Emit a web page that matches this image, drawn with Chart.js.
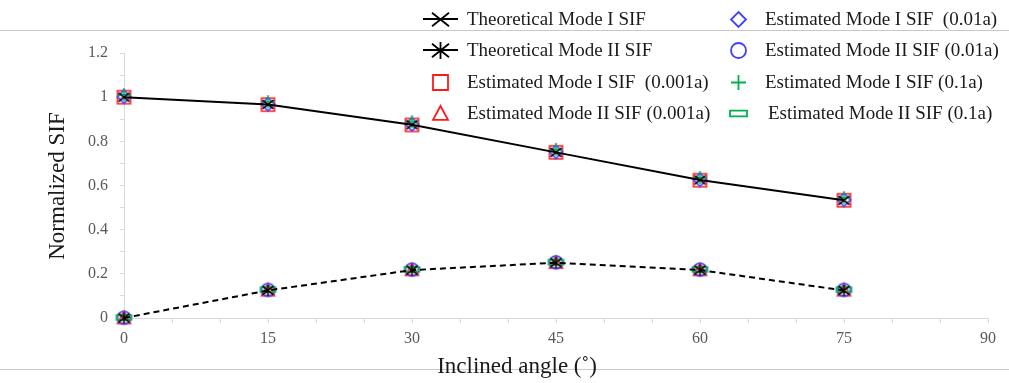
<!DOCTYPE html>
<html>
<head>
<meta charset="utf-8">
<script src="https://cdn.jsdelivr.net/npm/chart.js@4.4.1/dist/chart.umd.min.js"></script>
<style>
  html,body{margin:0;padding:0;background:#fff;}
  #wrap{width:1009px;height:383px;position:relative;}
</style>
</head>
<body>
<div id="wrap"><canvas id="c" width="1009" height="383"></canvas></div>
<script>
// ---- data ----
const angles = [0, 15, 30, 45, 60, 75];
const theoModeI  = [1.000, 0.967, 0.875, 0.750, 0.625, 0.533];
const theoModeII = [0.000, 0.125, 0.217, 0.250, 0.217, 0.125];
const estModeI_0001a  = [1.000, 0.966, 0.874, 0.750, 0.624, 0.533];
const estModeII_0001a = [0.000, 0.126, 0.218, 0.251, 0.218, 0.126];
const estModeI_001a   = [1.002, 0.968, 0.877, 0.752, 0.626, 0.535];
const estModeII_001a  = [0.001, 0.127, 0.219, 0.252, 0.219, 0.127];
const estModeI_01a    = [1.012, 0.980, 0.889, 0.764, 0.636, 0.545];
const estModeII_01a   = [0.002, 0.128, 0.220, 0.253, 0.220, 0.128];
const xTickValues = [0, 15, 30, 45, 60, 75, 90];
const yTickLabels = ['0', '0.2', '0.4', '0.6', '0.8', '1', '1.2'];
const seriesNames = [
  'Theoretical Mode I SIF', 'Theoretical Mode II SIF',
  'Estimated Mode I SIF  (0.001a)', 'Estimated Mode II SIF (0.001a)',
  'Estimated Mode I SIF  (0.01a)', 'Estimated Mode II SIF (0.01a)',
  'Estimated Mode I SIF (0.1a)', 'Estimated Mode II SIF (0.1a)'
];
const xTitle = 'Inclined angle (˚)';
const yTitle = 'Normalized SIF';

// ---- marker canvases ----
const RED = '#ff1a1a', BLUE = '#3f3fff', GREEN = '#00b050', BLACK = '#000000';
function mk(kind, s, color, lw) {
  const pad = 4, w = Math.ceil(s + pad * 2);
  const c = document.createElement('canvas');
  c.width = w; c.height = w;
  const g = c.getContext('2d');
  const cx = w / 2, cy = w / 2, h = s / 2;
  g.strokeStyle = color; g.lineWidth = lw; g.lineCap = 'butt';
  g.beginPath();
  if (kind === 'square') { g.rect(cx - h, cy - h, s, s); }
  else if (kind === 'triangle') { g.moveTo(cx, cy - h); g.lineTo(cx + h, cy + h * 0.85); g.lineTo(cx - h, cy + h * 0.85); g.closePath(); }
  else if (kind === 'diamond') { g.moveTo(cx, cy - h); g.lineTo(cx + h, cy); g.lineTo(cx, cy + h); g.lineTo(cx - h, cy); g.closePath(); }
  else if (kind === 'circle') { g.arc(cx, cy, h, 0, Math.PI * 2); }
  else if (kind === 'plus') { g.moveTo(cx - h, cy); g.lineTo(cx + h, cy); g.moveTo(cx, cy - h); g.lineTo(cx, cy + h); }
  else if (kind === 'bar') { g.rect(cx - h, cy - s / 6, s, s / 3); }
  else if (kind === 'x') { g.moveTo(cx - h, cy - h * 0.8); g.lineTo(cx + h, cy + h * 0.8); g.moveTo(cx + h, cy - h * 0.8); g.lineTo(cx - h, cy + h * 0.8); }
  else if (kind === 'ast') { g.moveTo(cx - h, cy - h * 0.8); g.lineTo(cx + h, cy + h * 0.8); g.moveTo(cx + h, cy - h * 0.8); g.lineTo(cx - h, cy + h * 0.8); g.moveTo(cx, cy - h); g.lineTo(cx, cy + h); }
  g.stroke();
  return c;
}
const kinds = [
  ['x', BLACK], ['ast', BLACK], ['square', RED], ['triangle', RED],
  ['diamond', BLUE], ['circle', BLUE], ['plus', GREEN], ['bar', GREEN]
];
const dataMarkers = kinds.map(([k, col]) => mk(k, k === 'bar' ? 15 : (k === 'x' || k === 'ast' ? 11 : 13), col, 1.6));
const legendMarkers = kinds.map(([k, col]) => mk(k, k === 'bar' ? 17 : (k === 'x' || k === 'ast' ? 17 : 15), col, 1.8));

const seriesData = [theoModeI, theoModeII, estModeI_0001a, estModeII_0001a, estModeI_001a, estModeII_001a, estModeI_01a, estModeII_01a];
const orders = [0, 0, 3, 3, 2, 2, 1, 1];
const datasets = seriesData.map((vals, i) => ({
  label: seriesNames[i],
  data: angles.map((a, j) => ({ x: a, y: vals[j] })),
  showLine: i < 2,
  borderColor: BLACK,
  borderWidth: 2,
  borderDash: i === 1 ? [6, 4] : [],
  pointStyle: dataMarkers[i],
  pointRadius: 7,
  clip: false,
  order: orders[i]
}));

// ---- plugin: frame lines, titles, legend ----
const decor = {
  id: 'decor',
  beforeDraw(chart) {
    const g = chart.ctx;
    g.save();
    g.strokeStyle = '#c8c8c8'; g.lineWidth = 1;
    g.beginPath();
    g.moveTo(0, 30.5); g.lineTo(1009, 30.5);
    g.moveTo(0, 369.5); g.lineTo(1009, 369.5);
    g.stroke();
    g.restore();
  },
  afterDraw(chart) {
    const g = chart.ctx;
    g.save();
    g.fillStyle = '#1a1a1a';
    g.font = '23px "Liberation Serif"';
    g.textAlign = 'center'; g.textBaseline = 'middle';
    g.fillText(xTitle, 517, 367);
    g.translate(58, 186); g.rotate(-Math.PI / 2);
    g.fillText(yTitle, 0, 0);
    g.restore();

    // legend
    g.save();
    g.font = '19px "Liberation Serif"';
    g.textBaseline = 'middle'; g.textAlign = 'left';
    g.fillStyle = '#1a1a1a';
    const rows = [19, 50, 82, 113];
    const cols = [{ sx: 440, tx: 467 }, { sx: 738, tx: 765 }];
    for (let i = 0; i < 8; i++) {
      const col = cols[i < 4 ? 0 : 1];
      const y = rows[i % 4];
      if (i < 2) {
        g.strokeStyle = BLACK; g.lineWidth = 2;
        g.beginPath(); g.moveTo(col.sx - 17, y); g.lineTo(col.sx + 18, y); g.stroke();
      }
      const m = legendMarkers[i];
      g.drawImage(m, Math.round(col.sx - m.width / 2), Math.round(y - m.height / 2));
      g.fillText(seriesNames[i], col.tx + (i === 7 ? 3 : 0), y + 1);
    }
    g.restore();
  }
};

new Chart(document.getElementById('c'), {
  type: 'scatter',
  data: { datasets },
  options: {
    responsive: false,
    animation: false,
    events: [],
    layout: { padding: { top: 53, right: 21, left: 0, bottom: 0 } },
    plugins: { legend: { display: false }, tooltip: { enabled: false } },
    scales: {
      x: {
        type: 'linear', min: 0, max: 90,
        afterFit(s) { s.height = 65; },
        grid: { drawOnChartArea: false, drawTicks: true, tickLength: 5, color: '#d9d9d9' },
        border: { display: true, color: '#d9d9d9', width: 1 },
        ticks: {
          stepSize: 5, autoSkip: false, maxRotation: 0, padding: 6,
          color: '#595959', font: { family: 'Liberation Serif', size: 16 },
          callback: v => (xTickValues.includes(v) ? String(v) : '')
        }
      },
      y: {
        min: 0, max: 1.2,
        afterFit(s) { s.width = 124; },
        grid: { drawOnChartArea: false, drawTicks: true, tickLength: 4, color: '#d9d9d9' },
        border: { display: true, color: '#d9d9d9', width: 1 },
        ticks: {
          stepSize: 0.1, autoSkip: false, padding: 12,
          color: '#595959', font: { family: 'Liberation Serif', size: 16 },
          callback: v => { const k = Math.round(v * 10); return k % 2 === 0 ? yTickLabels[k / 2] : ''; }
        }
      }
    }
  },
  plugins: [decor]
});
</script>
</body>
</html>
